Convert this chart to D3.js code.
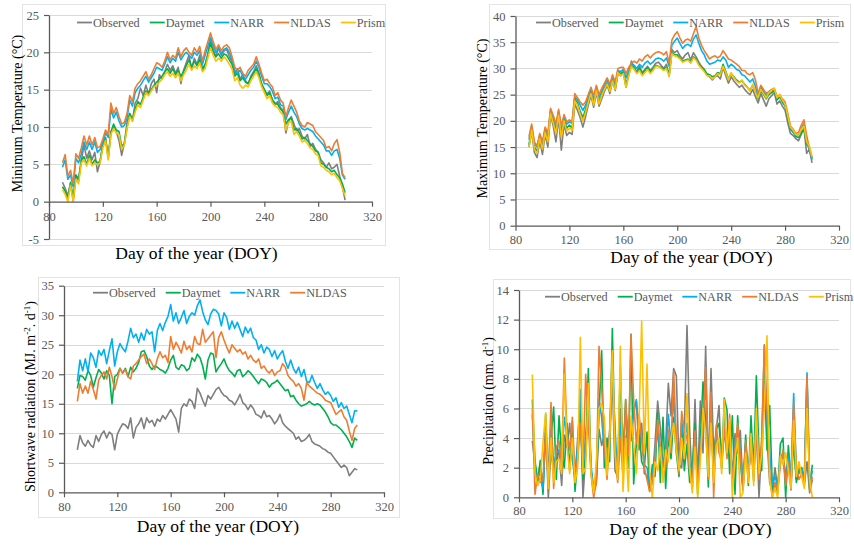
<!DOCTYPE html>
<html><head><meta charset="utf-8">
<script src="https://cdn.jsdelivr.net/npm/d3@7"></script>
<style>
body{margin:0;background:#fff}
text{font-family:"Liberation Serif","Times New Roman",serif}
</style>
</head><body>
<svg id="c" width="854" height="545" xmlns="http://www.w3.org/2000/svg"></svg>
<script>
// ---------- DATA ----------
const days = d3.range(90, 301, 2); // day of year, every 2nd day
const seriesNames = ["Observed", "Daymet", "NARR", "NLDAS", "Prism"];
const seriesColors = ["#7f7f7f", "#00b050", "#00b0f0", "#ed7d31", "#ffc000"];
const xTicks = [80, 120, 160, 200, 240, 280, 320];

// Minimum temperature (°C)
const tminObserved = [2.6,1.8,0.8,2.4,0.1,3.5,3.2,5.4,7.6,5.8, 6.8,5.6,6.6,4.0,5.4,7.8,8.6,5.8,9.4,10.2, 9.4,8.2,6.2,7.8,10.6,11.8,10.8,13.2,13.8,15.2, 14.2,15.6,14.4,15.8,16.4,14.6,17.0,16.4,17.4,18.4, 17.6,18.2,17.2,18.0,15.8,17.6,18.6,19.6,17.8,19.2, 18.4,19.6,17.6,18.2,19.8,21.8,20.4,19.4,20.6,19.6, 20.2,20.4,19.4,18.8,17.0,17.8,16.4,17.0,16.2,15.8, 16.8,17.4,18.2,17.2,15.6,15.0,14.4,14.8,13.6,13.0, 13.4,12.6,12.2,9.2,10.8,11.4,10.4,9.4,9.8,8.8, 8.4,9.0,7.4,7.8,7.0,6.6,5.6,5.2,4.6,5.2, 4.4,4.6,5.0,3.4,2.0,0.2];
const tminDaymet = [2.0,1.4,0.5,2.6,0.4,3.6,2.8,5.6,6.0,5.0, 6.2,5.0,5.6,5.2,5.4,7.6,8.4,6.0,9.2,10.4, 9.6,9.4,7.4,7.8,10.0,11.8,11.0,12.4,13.4,13.0, 14.0,14.8,14.6,15.0,15.6,16.0,16.4,16.8,17.4,17.8, 17.2,17.8,17.0,17.6,16.8,17.4,18.2,19.0,18.0,18.8, 18.2,19.0,17.8,18.4,19.6,21.2,20.0,19.4,19.8,19.2, 19.8,19.6,19.0,18.4,16.8,17.2,16.2,16.6,16.0,15.8, 16.6,17.2,17.8,17.0,15.8,15.0,14.2,14.6,13.6,13.2, 13.0,12.4,12.0,10.4,11.0,11.2,9.6,9.8,9.2,8.4, 8.6,8.2,7.8,7.4,6.8,6.6,5.2,5.0,4.6,4.4, 4.0,4.2,3.6,3.2,2.4,1.2];
const tminNARR = [4.6,5.6,3.0,3.6,2.0,5.8,5.2,6.4,8.0,7.0, 8.0,7.0,8.0,6.6,7.0,8.0,9.2,8.6,12.4,11.2, 12.0,10.8,10.0,10.2,11.2,13.6,12.8,14.6,15.2,15.6, 16.2,16.8,16.0,16.6,17.2,18.0,17.8,17.6,18.4,19.4, 18.6,19.2,18.8,20.0,19.0,19.6,20.0,19.6,19.2,20.0, 19.6,20.2,18.4,19.6,20.8,22.0,21.0,20.0,20.6,19.8, 20.4,20.6,20.0,19.0,17.6,17.2,17.6,16.8,16.4,17.0, 17.6,18.0,18.8,18.0,16.8,15.8,15.8,15.4,14.8,13.8, 14.0,13.0,12.8,11.0,12.0,12.8,12.0,11.4,10.4,9.8, 9.6,9.8,9.6,9.4,8.8,8.4,8.0,7.6,6.8,6.8, 6.2,6.8,7.0,5.8,3.6,3.0];
const tminNLDAS = [5.2,6.3,3.4,4.2,2.4,6.4,5.8,7.2,8.8,7.6, 8.8,7.6,8.6,7.2,7.4,8.4,9.6,9.0,13.2,11.8, 12.6,11.4,10.4,10.6,11.8,14.2,13.4,15.2,15.8,16.2, 16.8,17.4,16.4,17.0,17.8,18.6,18.4,18.0,18.8,20.0, 19.0,19.6,19.2,20.6,19.4,20.2,20.6,20.0,19.6,20.6, 20.0,20.8,18.8,20.2,21.4,22.6,21.4,20.4,21.0,20.2, 20.8,21.0,20.6,19.4,18.0,17.6,18.0,17.2,16.8,17.6, 18.0,18.4,19.4,18.4,17.2,16.2,16.4,15.8,15.4,14.2, 14.6,13.6,13.2,11.4,12.6,13.6,12.8,12.0,10.8,10.2, 10.0,10.6,10.4,10.2,9.4,9.0,8.6,8.2,7.2,7.4, 6.8,7.8,8.3,6.6,3.8,3.2];
const tminPrism = [1.6,1.0,0.0,2.2,0.0,3.0,2.4,5.2,5.6,4.8, 5.8,4.8,5.2,5.0,5.2,7.2,8.2,5.6,9.0,9.8, 9.2,9.0,7.0,7.6,9.8,11.4,10.8,12.0,13.0,12.6, 13.6,14.6,14.2,14.8,15.4,15.6,16.0,16.4,17.0,17.4, 16.8,17.2,16.6,17.2,16.2,17.0,17.6,18.4,17.6,18.2, 17.8,18.6,17.4,17.8,19.2,20.6,19.6,18.8,19.2,18.8, 19.4,19.0,18.4,17.8,16.2,16.6,15.6,15.2,15.6,15.4, 16.2,16.8,17.4,16.6,15.4,14.6,13.8,14.2,13.2,12.8, 12.6,12.0,11.6,9.6,10.6,10.8,9.0,9.4,8.8,8.0, 8.2,7.8,7.2,7.0,6.4,6.2,4.8,4.6,4.2,4.0, 3.6,3.8,3.2,2.8,1.8,0.8];
const tminTicks = [-5, 0, 5, 10, 15, 20, 25];

// Maximum temperature (°C)
const tmaxObserved = [15.0,18.0,14.0,13.0,16.2,13.6,17.4,15.0,21.2,19.0, 16.0,20.6,14.4,19.4,17.2,17.8,17.4,23.2,22.0,20.6, 18.8,20.8,23.0,24.8,22.6,25.4,22.8,24.2,25.6,26.8, 25.2,27.6,25.8,29.0,28.6,29.2,26.4,29.0,31.4,30.2, 29.4,30.4,29.2,29.8,30.4,29.6,30.2,31.0,31.2,30.6, 30.0,30.8,28.6,33.6,33.0,33.4,32.4,31.8,32.6,33.0, 31.6,33.0,32.2,31.2,30.4,29.8,28.8,28.4,27.8,28.4, 28.6,28.0,30.2,28.6,27.2,28.4,27.6,27.0,26.4,26.8, 26.0,25.4,25.0,26.0,24.6,23.4,25.2,24.0,22.8,24.2, 24.8,25.4,23.2,23.8,22.8,22.0,19.6,17.6,17.2,16.6, 16.2,17.4,18.6,13.8,14.6,12.0];
const tmaxDaymet = [15.4,18.6,15.0,14.2,16.8,15.0,18.2,16.4,21.8,20.0, 18.4,21.4,17.4,20.4,18.6,19.2,18.6,24.2,23.4,21.8, 20.6,22.2,24.0,25.6,23.4,26.0,23.6,25.0,26.2,27.2, 25.8,27.8,26.2,29.4,29.0,29.4,26.8,28.8,30.6,30.0, 29.2,30.0,29.0,29.6,30.2,29.4,29.8,30.6,30.4,30.2, 29.8,30.2,28.8,33.0,32.6,32.6,32.0,31.4,31.6,31.8, 31.2,32.2,31.8,30.8,30.2,29.8,29.0,28.8,28.4,28.6, 29.2,29.0,30.8,29.4,28.0,29.0,28.4,27.8,27.4,27.6, 27.0,26.4,25.8,26.8,25.6,24.2,25.8,25.0,24.2,25.0, 25.4,25.8,24.0,24.6,23.6,22.8,20.6,18.4,17.8,17.0, 16.8,17.8,18.4,15.6,14.8,12.8];
const tmaxNARR = [16.4,19.0,15.6,15.0,17.2,15.6,18.6,17.0,22.0,20.6, 19.0,21.8,18.6,20.8,19.4,19.8,19.6,24.6,24.0,23.0, 22.0,23.0,24.6,26.0,24.2,26.4,24.4,25.6,26.8,27.8, 26.6,28.4,27.0,29.6,29.4,29.8,28.2,29.6,30.8,30.6, 30.0,30.8,30.2,31.0,31.4,30.8,31.2,31.8,32.0,31.8, 31.4,32.0,30.4,34.4,35.2,35.8,34.8,33.8,34.4,34.6, 34.2,35.6,36.4,34.8,33.4,32.6,31.4,30.8,31.0,31.2, 31.6,31.4,32.2,31.6,30.2,30.8,30.4,29.8,29.6,28.8, 28.6,28.0,27.4,28.0,26.6,24.8,26.4,25.6,24.8,25.4, 25.8,26.0,24.4,24.8,24.0,23.2,21.0,18.6,18.0,17.2, 17.2,18.6,19.4,16.6,14.4,12.6];
const tmaxNLDAS = [17.0,19.4,16.0,15.2,17.6,16.0,18.8,17.6,22.4,21.0, 19.4,22.2,19.0,21.2,19.8,20.2,19.8,25.2,24.4,23.6, 23.0,23.6,25.0,26.4,24.8,26.8,25.0,26.2,27.2,28.2, 27.0,28.8,27.4,30.0,30.2,30.2,29.0,30.2,31.0,31.4, 31.0,31.8,31.4,32.2,32.6,32.0,32.6,33.0,33.2,33.0, 32.6,33.2,31.0,35.4,36.4,37.0,35.8,34.8,35.4,35.6, 35.2,36.6,38.0,35.8,34.4,33.4,32.6,31.8,32.2,32.4, 32.0,32.4,33.4,32.6,31.8,31.6,31.2,30.8,30.4,29.6, 29.6,29.0,28.8,29.2,27.8,25.2,26.8,26.0,25.2,25.6, 26.0,26.2,24.6,25.0,24.2,23.6,21.4,19.0,18.4,17.6, 17.8,19.2,20.2,17.2,14.8,13.0];
const tmaxPrism = [15.0,18.2,14.6,13.8,16.6,14.6,17.8,16.0,21.4,19.6, 17.6,21.0,16.8,20.0,18.0,18.6,18.2,23.8,23.0,21.2, 20.0,21.6,23.6,25.2,23.0,25.8,23.2,24.8,26.0,27.0, 25.6,27.6,26.0,29.2,28.6,29.0,26.4,28.6,30.4,29.8, 29.0,29.6,28.6,29.2,29.8,29.0,29.6,30.4,30.4,30.0, 29.6,30.0,28.4,32.8,32.4,32.2,31.8,31.2,31.4,31.6, 31.0,32.0,31.6,30.6,30.0,29.4,28.6,28.6,28.0,28.4, 29.0,28.8,30.4,29.2,27.8,29.2,28.2,27.6,27.2,27.8, 26.8,26.4,25.6,27.0,25.4,24.4,26.0,25.2,24.4,25.4, 25.8,26.2,24.4,25.0,24.0,23.2,21.0,18.8,18.2,17.4, 17.2,18.4,19.0,16.0,15.2,13.2];
const tmaxTicks = [0, 5, 10, 15, 20, 25, 30, 35, 40];

// Shortwave radiation (MJ m-2 d-1)
const swObserved = [7.2,9.6,8.4,7.8,8.8,8.0,7.6,9.6,8.6,9.8, 10.4,9.2,10.2,9.8,7.2,9.8,10.8,11.6,11.4,10.8, 12.6,9.2,11.0,11.6,12.6,10.8,12.6,11.8,12.2,11.2, 12.4,12.0,13.0,12.4,13.2,14.0,13.2,12.4,10.2,14.2, 15.0,14.6,15.8,15.4,14.2,17.6,16.8,15.6,14.6,16.4, 15.8,16.6,17.4,17.8,17.0,16.4,16.2,15.6,15.4,14.8, 15.6,16.6,15.2,14.8,14.0,14.8,14.2,13.2,13.0,12.6, 13.8,12.8,13.0,12.4,11.6,12.2,13.2,11.8,11.2,10.8, 10.4,10.0,9.0,9.4,8.6,8.8,9.2,9.8,8.6,8.2, 8.0,7.8,7.4,7.2,6.8,6.6,6.0,5.4,4.8,4.2, 4.6,4.2,2.8,3.4,4.0,3.8];
const swDaymet = [17.6,19.8,19.6,19.0,20.6,19.8,17.8,19.4,20.8,20.2, 19.2,20.6,19.8,15.0,19.6,20.0,21.0,20.2,21.0,19.6, 21.2,20.4,21.0,22.0,23.8,24.0,23.0,21.4,20.8,21.4, 21.2,20.8,20.6,20.2,21.0,22.4,23.2,21.2,20.8,21.6, 21.4,20.6,21.0,22.8,22.2,23.4,22.8,21.4,19.2,22.4, 23.6,23.4,20.4,21.2,21.8,22.6,21.4,20.6,20.2,19.6, 20.6,20.8,19.6,20.0,20.6,20.2,19.6,19.0,18.4,19.2, 19.0,18.6,17.8,18.4,18.6,19.0,18.4,17.8,17.2,17.4, 16.2,16.4,15.6,15.0,14.6,14.8,15.0,15.4,15.0,14.8, 15.0,14.8,14.2,13.6,12.8,11.8,11.4,11.4,11.0,10.6, 10.0,9.4,8.6,7.6,9.2,8.8];
const swNARR = [18.8,22.4,20.6,22.6,20.4,23.6,22.8,21.2,24.0,23.2, 24.2,21.8,24.0,26.0,21.4,23.8,25.2,24.4,23.8,25.6, 27.8,26.2,26.8,25.4,27.0,25.8,27.6,26.8,27.2,23.8, 27.4,28.6,27.4,28.8,29.8,31.8,29.0,30.4,28.6,29.6, 30.8,28.6,29.8,30.4,30.0,31.6,32.6,30.6,29.2,28.4, 30.2,31.0,30.8,30.2,28.2,30.4,29.6,27.6,29.0,27.8, 28.8,27.6,26.4,28.0,27.0,27.8,26.2,25.8,24.2,25.0, 23.6,24.6,24.2,23.0,24.0,22.6,23.4,24.0,22.2,21.0, 22.4,21.0,20.2,21.2,19.6,20.8,18.8,18.6,19.8,18.6, 17.6,18.4,17.4,16.6,17.0,16.4,15.4,16.0,14.4,15.2, 14.2,14.6,13.2,11.8,13.8,13.8];
const swNLDAS = [15.4,18.4,16.8,18.0,16.8,18.8,17.4,15.8,19.0,19.8, 20.4,19.2,21.2,19.6,17.4,19.2,21.0,20.2,20.8,19.6, 19.2,21.4,21.8,22.4,23.0,23.4,21.8,22.6,21.8,20.8, 22.6,23.8,22.8,23.2,22.0,26.4,24.2,25.4,24.6,23.6, 25.6,24.2,24.8,23.8,26.4,25.2,25.0,27.6,25.4,26.0, 26.6,27.2,22.8,26.2,27.2,25.8,24.6,23.6,25.0,24.4, 23.8,24.2,23.4,23.8,22.6,23.2,22.4,22.0,22.6,21.0, 21.4,20.6,20.2,20.8,19.8,20.4,20.6,21.8,21.2,19.8, 19.2,18.8,18.0,18.4,17.6,15.6,18.6,18.0,17.6,17.2, 16.8,16.6,16.2,15.6,15.4,15.2,14.2,13.2,13.6,14.0, 12.8,12.2,10.4,8.8,10.8,11.4];
const swTicks = [0, 5, 10, 15, 20, 25, 30, 35];

// Precipitation (mm d-1)
const prObserved = [3.8,2.2,1.2,2.4,0.4,4.6,0.0,3.2,1.6,2.8, 3.0,0.8,4.2,3.4,5.0,2.6,1.2,4.0,6.2,0.0, 2.8,6.4,1.8,0.3,1.0,4.6,3.5,4.2,1.6,4.2, 8.0,1.8,1.4,6.0,3.5,4.0,4.6,3.8,6.0,6.5, 3.2,5.0,1.6,1.5,0.6,1.0,3.6,6.5,4.7,2.0, 3.5,7.7,5.5,8.7,8.2,2.2,2.0,4.5,11.6,4.5, 0.8,6.6,1.0,6.5,3.0,10.2,1.5,8.7,3.0,4.6, 6.2,2.0,4.5,3.0,4.0,1.5,4.3,3.0,4.5,0.5, 3.5,1.3,3.6,1.1,4.8,0.0,3.5,10.3,4.0,1.0, 0.4,2.0,0.6,2.4,2.8,1.5,2.6,0.5,4.0,1.2, 2.0,1.6,0.8,2.4,0.3,1.2];
const prDaymet = [6.6,2.5,1.0,2.5,0.2,5.6,1.0,4.0,6.1,1.2, 5.5,2.8,2.0,5.0,1.8,5.1,0.4,2.5,6.0,1.2, 3.0,8.7,1.8,0.4,1.2,5.6,9.9,2.0,4.0,2.4, 11.4,3.6,1.6,8.8,2.6,6.6,2.0,11.0,0.9,3.6, 4.6,2.4,2.0,4.4,0.4,2.2,1.4,5.7,1.0,5.4, 0.6,4.2,2.6,5.4,3.0,1.4,5.2,1.8,3.6,1.0, 2.0,5.0,0.2,3.8,7.8,5.0,0.7,6.4,1.6,4.6, 5.0,2.0,6.7,5.9,1.6,5.5,0.2,5.5,2.4,0.5, 4.2,0.8,5.5,1.8,8.2,3.0,1.8,8.4,3.2,6.2, 0.6,1.0,0.3,3.6,4.0,0.0,3.5,1.2,3.8,1.0, 1.8,2.0,1.0,8.2,0.6,2.2];
const prNARR = [5.6,1.8,1.4,1.6,0.6,4.2,1.8,5.0,2.2,3.0, 3.2,2.6,5.4,4.2,3.5,2.6,1.6,3.4,7.3,2.0, 4.2,6.0,2.2,0.6,1.6,6.6,5.4,3.0,2.0,4.4, 8.3,4.8,1.2,5.0,3.0,6.0,4.2,4.4,5.6,6.6, 4.4,4.0,2.2,2.0,0.8,1.6,3.0,4.4,3.0,2.4, 2.8,5.6,3.6,6.8,3.8,2.2,5.0,3.6,5.0,2.4, 1.4,4.4,1.0,3.4,5.4,7.8,1.8,6.0,1.2,4.0, 3.6,3.0,5.4,3.6,4.6,1.0,3.6,4.6,3.2,1.0, 3.6,1.8,3.8,2.0,5.5,2.0,3.4,7.6,5.2,3.0, 0.8,1.4,0.8,2.6,3.0,1.0,2.8,1.4,7.0,1.6, 1.6,2.0,1.2,8.4,0.8,1.8];
const prNLDAS = [6.0,0.2,1.6,1.0,1.2,4.5,1.0,6.4,0.6,3.4, 3.8,2.2,9.4,4.2,3.2,5.4,1.4,2.6,5.0,1.8, 8.3,5.0,1.6,0.0,1.0,10.2,7.5,3.6,1.2,4.6, 9.7,3.4,1.0,4.0,1.4,6.6,2.8,11.0,6.6,3.6, 5.6,4.0,2.0,1.2,0.4,1.0,2.6,5.2,3.4,1.4, 2.0,4.6,3.0,8.5,4.0,1.6,5.8,4.5,4.0,1.8, 0.6,4.5,0.8,3.0,4.5,8.8,1.2,7.1,0.0,4.9, 3.0,2.4,4.8,2.6,5.6,0.8,3.2,5.0,2.8,0.6, 3.8,1.4,3.2,1.6,4.5,1.2,4.0,10.2,6.0,1.6, 0.0,1.0,0.4,2.2,3.2,0.8,2.4,1.0,6.4,2.0, 1.2,1.6,1.0,8.2,0.4,1.4];
const prPrism = [8.3,1.6,0.8,1.2,3.7,5.7,0.6,4.0,1.0,2.4, 2.6,1.6,8.3,3.6,1.6,4.0,1.0,2.0,10.8,1.6, 2.0,7.7,1.6,0.3,2.4,6.0,6.3,5.4,1.5,3.8, 9.9,3.0,1.2,10.2,0.4,4.0,0.4,5.5,3.6,1.6, 5.0,11.9,3.0,9.0,1.7,0.0,2.4,1.8,3.4,1.0, 3.2,2.4,4.0,5.0,3.2,1.8,4.0,2.6,7.0,2.0, 0.3,3.4,0.0,2.4,6.0,4.4,1.4,5.0,1.0,3.5, 4.0,1.6,6.6,3.0,5.3,0.0,2.6,4.0,0.0,0.3, 3.0,1.0,4.3,0.8,6.0,1.6,2.8,6.0,10.9,1.2, 0.0,0.6,0.0,2.8,2.2,3.0,1.8,0.6,5.2,1.4, 2.4,1.4,0.6,6.0,1.2,0.0];
const prTicks = [0, 2, 4, 6, 8, 10, 12, 14];

// ---------- DRAWING ----------
const svg = d3.select("#c");
const FONT = '"Liberation Serif","Times New Roman",serif';

const panels = [
  { frame:[22,4,363,241], xr:[49,372], yd:[-5,25], yr:[239,15], ticks:tminTicks, pad:5,
    series:[tminObserved,tminDaymet,tminNARR,tminNLDAS,tminPrism], legend:[77,22.5],
    ytitle:{x:21.5,y:113.5,parts:[["Minimum Temperature (°C)"]]}, xtitle:[196.5,258.5] },
  { frame:[489,4,361,245], xr:[515.5,839], yd:[0,40], yr:[225.7,16], ticks:tmaxTicks, pad:4,
    series:[tmaxObserved,tmaxDaymet,tmaxNARR,tmaxNLDAS,tmaxPrism], legend:[536,22.5],
    ytitle:{x:486.5,y:118.5,parts:[["Maximum Temperature (°C)"]]}, xtitle:[691.5,262.5] },
  { frame:[38,277,361,240], xr:[64,384], yd:[0,35], yr:[492.3,285.7], ticks:swTicks, pad:5,
    series:[swObserved,swDaymet,swNARR,swNLDAS], legend:[93,292.7],
    ytitle:{x:34.5,y:396.5,parts:[["Shortwave radiation (MJ. m"],["-2","sup"],[". d"],["-1","sup"],[")"]]}, xtitle:[218,532] },
  { frame:[493,279,357,239], xr:[519,839], yd:[0,14], yr:[497.3,290], ticks:prTicks, pad:3.5,
    series:[prObserved,prDaymet,prNARR,prNLDAS,prPrism], legend:[545,296.7],
    ytitle:{x:492.5,y:401,parts:[["Precipitation (mm. d"],["-1","sup"],[")"]]}, xtitle:[690.5,534.5] }
];

panels.forEach(p => {
  const g = svg.append("g");
  g.append("rect").attr("x",p.frame[0]+0.5).attr("y",p.frame[1]+0.5)
    .attr("width",p.frame[2]).attr("height",p.frame[3])
    .attr("fill","none").attr("stroke","#e3e3e3").attr("stroke-width",1);

  const x = d3.scaleLinear().domain([80,320]).range(p.xr);
  const y = d3.scaleLinear().domain(p.yd).range(p.yr);

  // gridlines
  g.append("g").selectAll("line").data(p.ticks.filter(t => t !== 0)).join("line")
    .attr("x1", x(80)).attr("x2", x(320))
    .attr("y1", d => Math.round(y(d)) + 0.5).attr("y2", d => Math.round(y(d)) + 0.5)
    .attr("stroke", "#d9d9d9").attr("stroke-width", 1);

  // series lines
  const line = d3.line().x((d,i) => x(days[i])).y(d => y(d));
  p.series.forEach((vals, k) => {
    g.append("path").datum(vals).attr("d", line)
      .attr("fill","none").attr("stroke", seriesColors[k])
      .attr("stroke-width", 1.6).attr("stroke-linejoin","round");
  });

  // axes
  const yAxis = d3.axisLeft(y).tickValues(p.ticks).tickSize(5).tickSizeOuter(0)
    .tickPadding(5).tickFormat(d => String(d));
  const ya = g.append("g").attr("transform", `translate(${x(80)},0)`).call(yAxis);
  const xAxis = d3.axisBottom(x).tickValues(xTicks).tickSize(5).tickSizeOuter(0)
    .tickPadding(p.pad).tickFormat(d => String(d));
  const xa = g.append("g").attr("transform", `translate(0,${y(0)})`).call(xAxis);
  [ya, xa].forEach(a => {
    a.select(".domain").attr("stroke","#595959").attr("stroke-width",1.3);
    a.selectAll(".tick line").attr("stroke","#595959").attr("stroke-width",1.2);
    a.selectAll(".tick text").attr("fill","#595959")
      .style("font-family", FONT).style("font-size","12.5px");
  });

  // legend
  let lx = p.legend[0];
  p.series.forEach((vals, k) => {
    g.append("line").attr("x1", lx).attr("x2", lx + 15)
      .attr("y1", p.legend[1]).attr("y2", p.legend[1])
      .attr("stroke", seriesColors[k]).attr("stroke-width", 1.8);
    const t = g.append("text").attr("x", lx + 16).attr("y", p.legend[1]).attr("dy","0.33em")
      .attr("fill","#595959").style("font-family",FONT).style("font-size","12.2px")
      .text(seriesNames[k]);
    lx += 16 + t.node().getComputedTextLength() + 10;
  });

  // axis titles
  g.append("text").attr("x", p.xtitle[0]).attr("y", p.xtitle[1])
    .attr("text-anchor","middle").attr("fill","#000")
    .style("font-family",FONT).style("font-size","17.5px")
    .text("Day of the year (DOY)");

  const yt = g.append("text")
    .attr("transform", `translate(${p.ytitle.x},${p.ytitle.y}) rotate(-90)`)
    .attr("text-anchor","middle").attr("fill","#000")
    .style("font-family",FONT).style("font-size","14px");
  let sup = false;
  p.ytitle.parts.forEach(([txt, kind]) => {
    const ts = yt.append("tspan").text(txt);
    if (kind === "sup") { ts.attr("dy", "-5").style("font-size","9px"); sup = true; }
    else if (sup) { ts.attr("dy", "5"); sup = false; }
  });
});
</script>
</body></html>
